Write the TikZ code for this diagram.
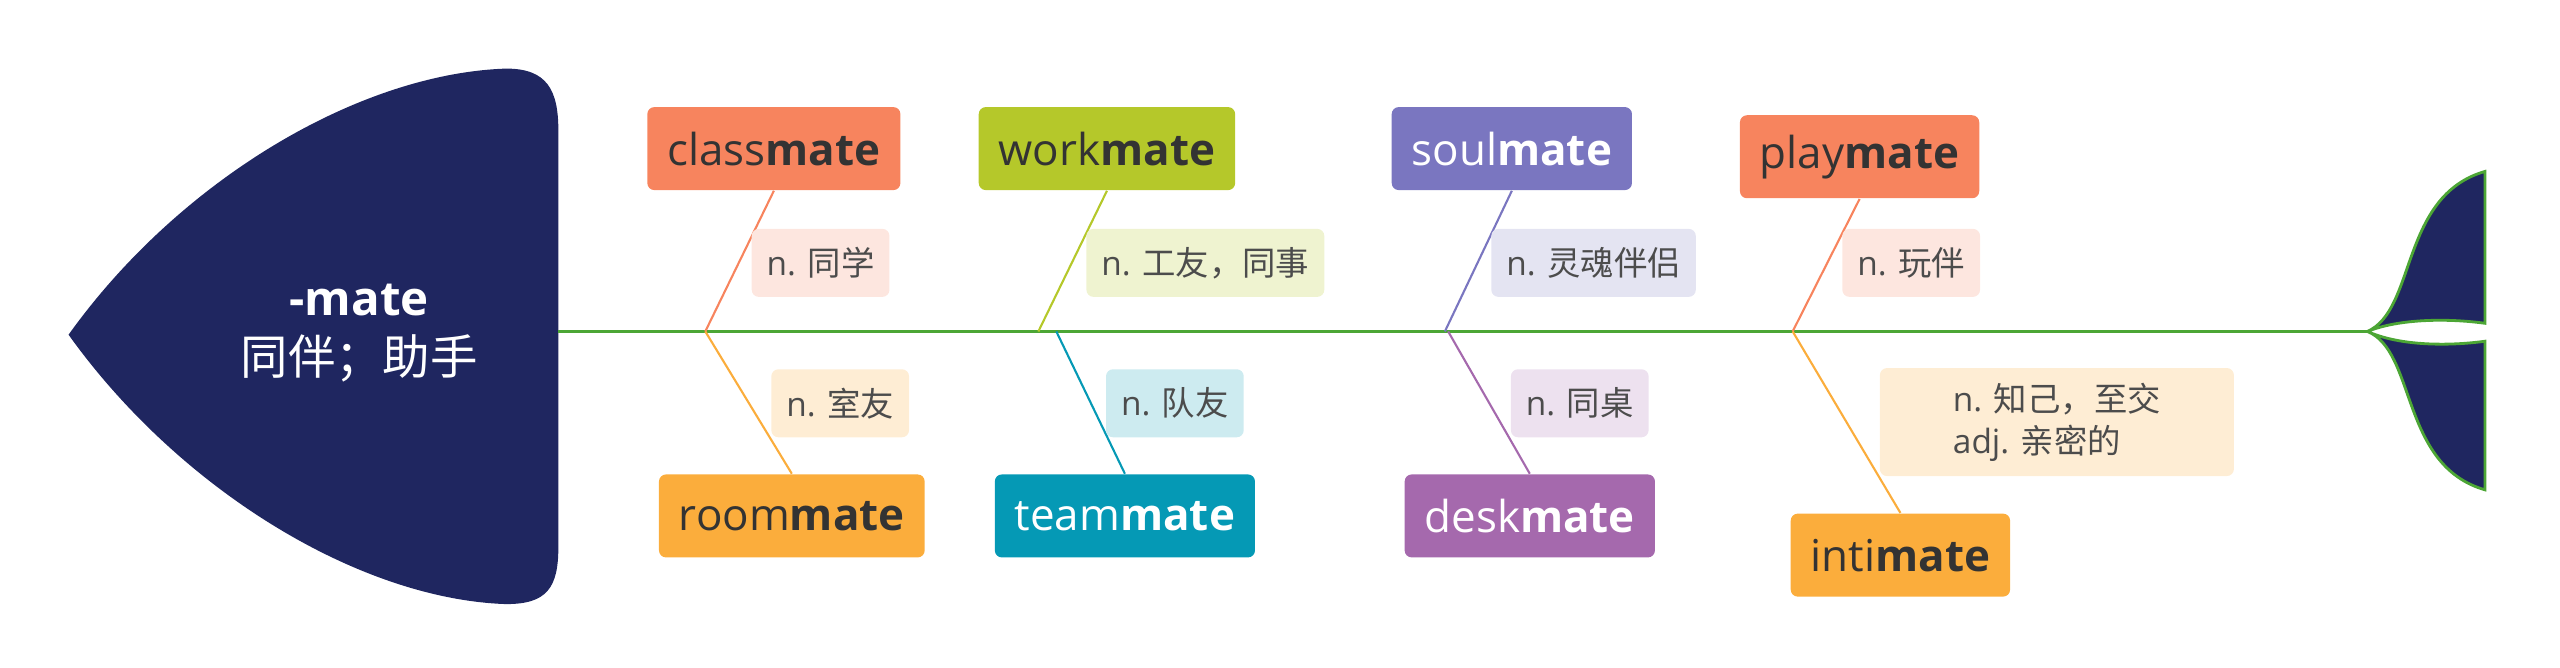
\documentclass[tikz,border=0pt]{standalone}
\usepackage{fontspec}
\setmainfont{Open Sans}
\newfontfamily\cjk{Noto Sans CJK SC}
\definecolor{navy}{HTML}{1F2660}
\definecolor{spine}{HTML}{4CA635}
\definecolor{corange}{HTML}{F7845E}
\definecolor{cyellow}{HTML}{FBAD3C}
\definecolor{colive}{HTML}{B5C82A}
\definecolor{cteal}{HTML}{0599B5}
\definecolor{cpurple}{HTML}{7A76C0}
\definecolor{cviolet}{HTML}{A569AD}
\tikzset{
  word/.style={rounded corners=2pt,text=black!80,font=\fontsize{12.5}{15}\selectfont,
    minimum height=0.83cm,inner xsep=0.2cm},
  wordw/.style={word,text=white},
  mean/.style={rounded corners=2pt,text=black!70,font=\fontsize{9.5}{12}\selectfont,
    minimum height=0.68cm,inner xsep=0.15cm,align=left},
  bone/.style={line width=0.6pt}
}
\begin{document}
\begin{tikzpicture}[x=0.016327cm,y=-0.016327cm]
\useasboundingbox (0,0) rectangle (1568,409);
% head
\fill[navy] (42,205) .. controls (110,110) and (220,45) .. (310,42)
  .. controls (335,42) and (342,55) .. (342,80) -- (342,335)
  .. controls (342,360) and (335,370) .. (310,370)
  .. controls (220,367) and (110,300) .. (42,205) -- cycle;
\node[text=white,align=center,font=\fontsize{13.5}{17}\selectfont] (head) at (220,204)
  {\textbf{-mate}\\{\cjk 同伴；助手}};
% spine
\coordinate (sp0) at (342,203);
\coordinate (sp1) at (1450,203);
\draw[spine,line width=0.8pt] (sp0) -- (sp1);
% tail
\draw[spine,fill=navy,line width=0.8pt] (sp1) .. controls (1480,190) and (1470,120) .. (1522,105)
  -- (1522,198) .. controls (1500,195) and (1470,195) .. (sp1)
  .. controls (1470,212) and (1500,212) .. (1522,209) -- (1522,300)
  .. controls (1470,285) and (1480,215) .. (sp1) -- cycle;
% branches
\coordinate (j1) at (432,203); \coordinate (j2) at (636,203);
\coordinate (j3) at (647,203); \coordinate (j4) at (885,203);
\coordinate (j5) at (887,203); \coordinate (j6) at (1098,203);
\node[word,fill=corange] (classmate) at (474,91) {class\textbf{mate}};
\node[word,fill=cyellow] (roommate) at (485,316) {room\textbf{mate}};
\node[word,fill=colive] (workmate) at (678,91) {work\textbf{mate}};
\node[wordw,fill=cteal] (teammate) at (689,316) {team\textbf{mate}};
\node[wordw,fill=cpurple] (soulmate) at (926,91) {soul\textbf{mate}};
\node[wordw,fill=cviolet] (deskmate) at (937,316) {desk\textbf{mate}};
\node[word,fill=corange] (playmate) at (1139,96) {play\textbf{mate}};
\node[word,fill=cyellow] (intimate) at (1164,340) {inti\textbf{mate}};
\draw[bone,corange] (classmate.south) -- (j1);
\draw[bone,cyellow] (j1) -- (roommate.north);
\draw[bone,colive] (workmate.south) -- (j2);
\draw[bone,cteal] (j3) -- (teammate.north);
\draw[bone,cpurple] (soulmate.south) -- (j4);
\draw[bone,cviolet] (j5) -- (deskmate.north);
\draw[bone,corange] (playmate.south) -- (j6);
\draw[bone,cyellow] (j6) -- (intimate.north);
% meanings
\node[mean,fill=corange!20,anchor=west] (m1) at (460,161) {n. {\cjk 同学}};
\node[mean,fill=cyellow!22,anchor=west] (m2) at (472,247) {n. {\cjk 室友}};
\node[mean,fill=colive!22,anchor=west] (m3) at (665,161) {n. {\cjk 工友，同事}};
\node[mean,fill=cteal!20,anchor=west] (m4) at (677,247) {n. {\cjk 队友}};
\node[mean,fill=cpurple!20,anchor=west] (m5) at (913,161) {n. {\cjk 灵魂伴侣}};
\node[mean,fill=cviolet!20,anchor=west] (m6) at (925,247) {n. {\cjk 同桌}};
\node[mean,fill=corange!20,anchor=west] (m7) at (1128,161) {n. {\cjk 玩伴}};
\node[mean,fill=cyellow!22,anchor=north west,minimum width=3.54cm,minimum height=1.08cm] (m8) at (1151,225)
  {n. {\cjk 知己，至交}\\adj. {\cjk 亲密的}};
\end{tikzpicture}
\end{document}
